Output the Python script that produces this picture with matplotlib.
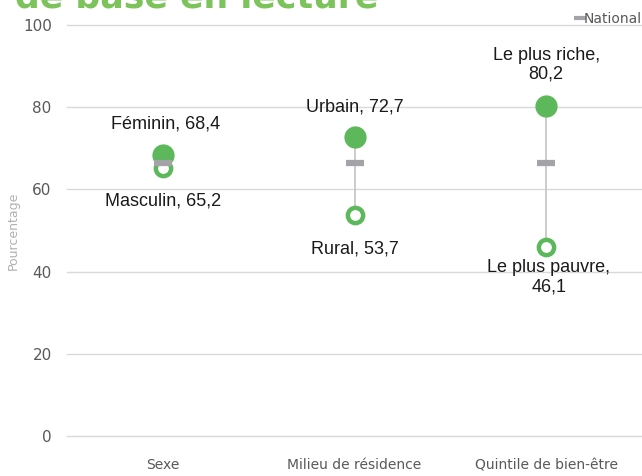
import matplotlib
matplotlib.use("Agg")
import matplotlib.pyplot as plt
from matplotlib.lines import Line2D

# data
categories = ["Sexe", "Milieu de résidence", "Quintile de bien-être"]
high_values = [68.4, 72.7, 80.2]
low_values = [65.2, 53.7, 46.1]
national = [66.5, 66.5, 66.5]
high_labels = ["Féminin, 68,4", "Urbain, 72,7", "Le plus riche,\n80,2"]
low_labels = ["Masculin, 65,2", "Rural, 53,7", "Le plus pauvre,\n46,1"]
yticks = [0, 20, 40, 60, 80, 100]

green = "#5cb85a"
title_green = "#7cc35c"
nat_gray = "#a3a3a8"
tick_gray = "#595959"

fig = plt.figure(figsize=(6.42, 4.76), dpi=100)
ax = fig.add_axes([67 / 642, 40 / 476, 575 / 642, 411 / 476])

x = list(range(len(categories)))

# connecting lines
for i in x:
    ax.plot([i, i], [low_values[i], high_values[i]], color="#c4c4c4", lw=1.2, zorder=2)

ax.plot(x, high_values, "o", color=green, ms=15, ls="none", zorder=3)
ax.plot(x, low_values, "o", mfc="white", mec=green, mew=3.2, ms=11, ls="none", zorder=3)
ax.plot(x, national, "_", color=nat_gray, ms=13, mew=4.5, ls="none", zorder=4)

# data labels
high_offsets = [(2, 22), (0, 22), (0, 30)]
low_offsets = [(0, -24), (0, -24), (2, -22)]
for i in x:
    ax.annotate(high_labels[i], (i, high_values[i]), xytext=high_offsets[i],
                textcoords="offset points", ha="center", va="center",
                fontsize=13, family="Liberation Sans", color="#1a1a1a",
                linespacing=1.15)
    ax.annotate(low_labels[i], (i, low_values[i]), xytext=low_offsets[i],
                textcoords="offset points", ha="center", va="center",
                fontsize=13, family="Liberation Sans", color="#1a1a1a",
                linespacing=1.15)

ax.set_xlim(-0.5, 2.5)
ax.set_ylim(0, 100)
ax.set_yticks(yticks)
ax.set_xticks(x)
ax.set_xticklabels(categories)
ax.grid(axis="y", color="#d9d9d9", lw=1)
for gl in ax.get_ygridlines():
    gl.set_clip_on(False)
ax.set_axisbelow(True)
for s in ax.spines.values():
    s.set_visible(False)
ax.tick_params(axis="y", length=0, pad=11, labelsize=11, labelcolor=tick_gray)
ax.tick_params(axis="x", length=0, pad=16, labelsize=10, labelcolor=tick_gray)
for lab in ax.get_xticklabels() + ax.get_yticklabels():
    lab.set_family(["Liberation Sans Narrow", "DejaVu Sans"])

ax.set_ylabel("Pourcentage", fontsize=9, color="#b0b0b0", labelpad=2)

leg = ax.legend(handles=[Line2D([], [], color=nat_gray, marker="_", ls="none",
                                ms=8, mew=3)],
                labels=["National"], loc="upper right", frameon=False,
                bbox_to_anchor=(1.01, 1.045), handletextpad=-0.3,
                handlelength=1.2, borderaxespad=0,
                prop={"family": ["Liberation Sans Narrow", "DejaVu Sans"], "size": 10})
for t in leg.get_texts():
    t.set_color(tick_gray)

# title cut off at the top of the image
fig.text(0.023, 1 - 8 / 476, "de base en lecture", fontsize=25,
         fontweight="bold", color=title_green, va="baseline", ha="left")

fig.savefig("out.png", dpi=100)
